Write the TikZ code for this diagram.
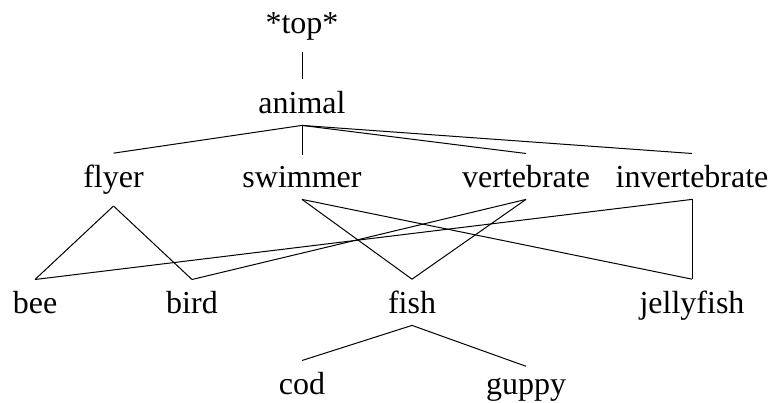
\documentclass[tikz,border=0pt]{standalone}
\usepackage{fontspec}
\setmainfont{Liberation Serif}
\begin{document}
\begin{tikzpicture}[x=1pt,y=-1pt,
  lbl/.style={anchor=base,inner sep=11.5pt,font=\fontsize{32}{38}\selectfont},
  edge/.style={line width=1pt}]
\useasboundingbox (0,0) rectangle (771,403);
\node[lbl] (top) at (302,33.5) {*top*};
\node[lbl] (animal) at (302,113.4) {animal};
\node[lbl] (flyer) at (113.5,187.4) {flyer};
\node[lbl] (swimmer) at (302,187.4) {swimmer};
\node[lbl] (vertebrate) at (526,187.4) {vertebrate};
\node[lbl] (invertebrate) at (692,187.4) {invertebrate};
\node[lbl] (bee) at (35,313.4) {bee};
\node[lbl] (bird) at (192,313.4) {bird};
\node[lbl] (fish) at (412,313.4) {fish};
\node[lbl] (jellyfish) at (692,313.4) {jellyfish};
\node[lbl] (cod) at (302,394.4) {cod};
\node[lbl] (guppy) at (526,394.4) {guppy};
\draw[edge] (top.south) -- (animal.north);
\draw[edge] (animal.south) -- (flyer.north);
\draw[edge] (animal.south) -- (swimmer.north);
\draw[edge] (animal.south) -- (vertebrate.north);
\draw[edge] (animal.south) -- (invertebrate.north);
\draw[edge] (flyer.south) -- (bee.north);
\draw[edge] (flyer.south) -- (bird.north);
\draw[edge] (swimmer.south) -- (fish.north);
\draw[edge] (swimmer.south) -- (jellyfish.north);
\draw[edge] (vertebrate.south) -- (bird.north);
\draw[edge] (vertebrate.south) -- (fish.north);
\draw[edge] (invertebrate.south) -- (bee.north);
\draw[edge] (invertebrate.south) -- (jellyfish.north);
\draw[edge] (fish.south) -- (cod.north);
\draw[edge] (fish.south) -- (guppy.north);
\end{tikzpicture}
\end{document}
